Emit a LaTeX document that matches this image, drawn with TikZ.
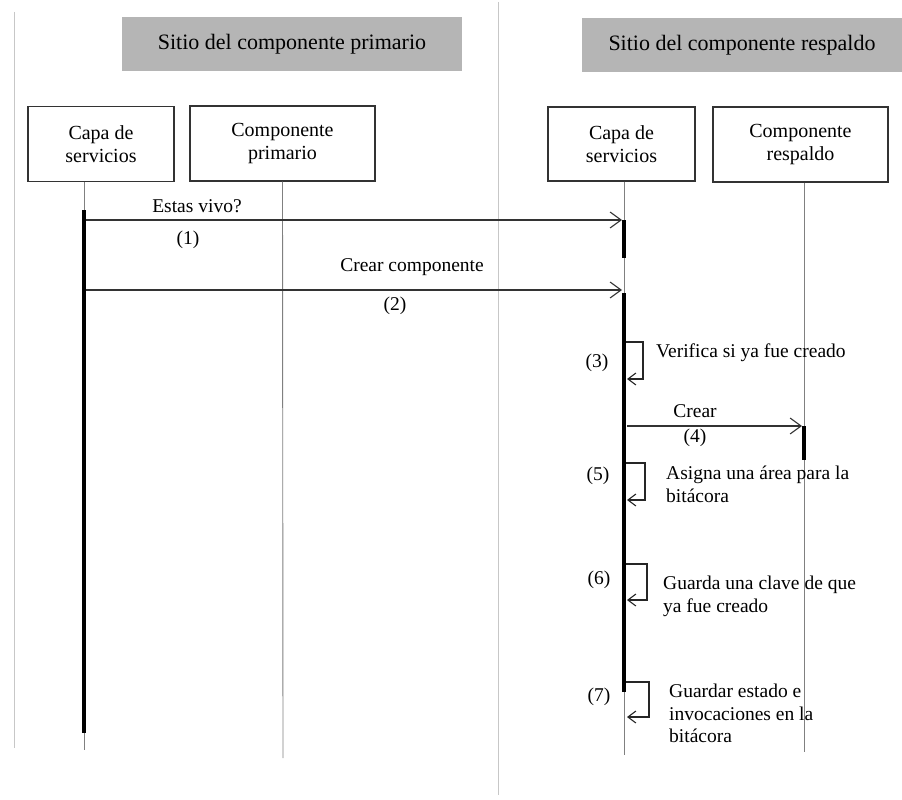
\documentclass[tikz,border=0pt]{standalone}
\usepackage{fontspec}
\setmainfont{Liberation Serif}
\usetikzlibrary{arrows.meta}
\begin{document}
\begin{tikzpicture}[x=1pt,y=-1pt,
  header/.style={fill=black!29, inner sep=0pt, font=\fontsize{22}{26}\selectfont, text=black},
  objbox/.style={draw=black!80, line width=1.3pt, fill=white, align=center, inner sep=0pt,
    font=\fontsize{20}{23}\selectfont, text=black},
  lifeline/.style={draw=black!50, line width=0.9pt},
  border/.style={draw=black!22, line width=0.9pt},
  activation/.style={draw=black, line width=4pt},
  msg/.style={draw=black!80, line width=1.2pt, -{Straight Barb[length=11pt,width=16pt,line width=1.1pt]}},
  selfmsg/.style={draw=black!85, line width=1.1pt, -{Straight Barb[length=8pt,width=12pt,line width=1.1pt]}},
  lbl/.style={font=\fontsize{19.5}{22.5}\selectfont, text=black, inner sep=0pt},
  note/.style={lbl, align=left, anchor=north west}
]
\useasboundingbox (0,0) rectangle (902,800);

% page frame lines
\draw[border] (14,12) -- (14,748);
\draw[border] (498,2) -- (498,795);

% site headers
\node[header, minimum width=340pt, minimum height=54pt] (hdrA) at (292,44) {Sitio del componente primario};
\node[header, minimum width=320pt, minimum height=54pt] (hdrB) at (742,45) {Sitio del componente respaldo};

% participants
\node[objbox, minimum width=146pt, minimum height=75pt] (capaA) at (101,144) {Capa de\\servicios};
\node[objbox, minimum width=185pt, minimum height=75pt] (compP) at (282.5,143.5) {Componente\\primario};
\node[objbox, minimum width=147pt, minimum height=74pt] (capaB) at (621.5,144) {Capa de\\servicios};
\node[objbox, minimum width=175pt, minimum height=75pt] (compR) at (800.5,144.5) {Componente\\respaldo};

% lifeline end points
\coordinate (capaAtop) at (capaA.south -| 84,0);
\coordinate (capaAend) at (84,750);
\coordinate (compPend) at (283,758);
\coordinate (capaBtop) at (capaB.south -| 624,0);
\coordinate (capaBend) at (624,755);
\coordinate (compRtop) at (compR.south -| 804,0);
\coordinate (compRend) at (804,752);

\draw[lifeline] (capaAtop) -- (capaAend);
\draw[lifeline] (compP.south) -- (compPend);
\draw[lifeline] (capaBtop) -- (capaBend);
\draw[lifeline] (compRtop) -- (compRend);

% activation bars
\coordinate (actA1) at (84,210);  \coordinate (actA2) at (84,733);
\coordinate (actB1) at (624,220); \coordinate (actB2) at (624,258);
\coordinate (actC1) at (624,293); \coordinate (actC2) at (624,692);
\coordinate (actR1) at (804,426); \coordinate (actR2) at (804,460);
\draw[activation] (actA1) -- (actA2);
\draw[activation] (actB1) -- (actB2);
\draw[activation] (actC1) -- (actC2);
\draw[activation] (actR1) -- (actR2);

% (1) Estas vivo?
\coordinate (m1s) at (86,220);  \coordinate (m1e) at (622,220);
\draw[msg] (m1s) -- (m1e);
\node[lbl] (m1t) at (197,206) {Estas vivo?};
\node[lbl] (m1n) at (188,240) {(1)};

% (2) Crear componente
\coordinate (m2s) at (86,290);  \coordinate (m2e) at (622,290);
\draw[msg] (m2s) -- (m2e);
\node[lbl] (m2t) at (412,267) {Crear componente};
\node[lbl] (m2n) at (395,306) {(2)};

% (3) self call
\coordinate (s3a) at (626,342); \coordinate (s3b) at (643,342);
\coordinate (s3c) at (643,379); \coordinate (s3d) at (627,379);
\draw[selfmsg] (s3a) -- (s3b) -- (s3c) -- (s3d);
\node[lbl] (s3n) at (597,363) {(3)};
\node[note] (s3t) at (656,344) {Verifica si ya fue creado};

% (4) Crear
\coordinate (m4s) at (627,426); \coordinate (m4e) at (802,426);
\draw[msg] (m4s) -- (m4e);
\node[lbl] (m4t) at (695,411) {Crear};
\node[lbl] (m4n) at (695,438) {(4)};

% (5) self call
\coordinate (s5a) at (626,463); \coordinate (s5b) at (645,463);
\coordinate (s5c) at (645,500); \coordinate (s5d) at (627,500);
\draw[selfmsg] (s5a) -- (s5b) -- (s5c) -- (s5d);
\node[lbl] (s5n) at (598,476) {(5)};
\node[note] (s5t) at (666,466) {Asigna una área para la\\bitácora};

% (6) self call
\coordinate (s6a) at (626,564); \coordinate (s6b) at (647,564);
\coordinate (s6c) at (647,600); \coordinate (s6d) at (627,600);
\draw[selfmsg] (s6a) -- (s6b) -- (s6c) -- (s6d);
\node[lbl] (s6n) at (599,580) {(6)};
\node[note] (s6t) at (663,576) {Guarda una clave de que\\ya fue creado};

% (7) self call
\coordinate (s7a) at (626,682); \coordinate (s7b) at (649,682);
\coordinate (s7c) at (649,717); \coordinate (s7d) at (627,717);
\draw[selfmsg] (s7a) -- (s7b) -- (s7c) -- (s7d);
\node[lbl] (s7n) at (599,697) {(7)};
\node[note] (s7t) at (669,684) {Guardar estado e\\invocaciones en la\\bitácora};
\end{tikzpicture}
\end{document}
